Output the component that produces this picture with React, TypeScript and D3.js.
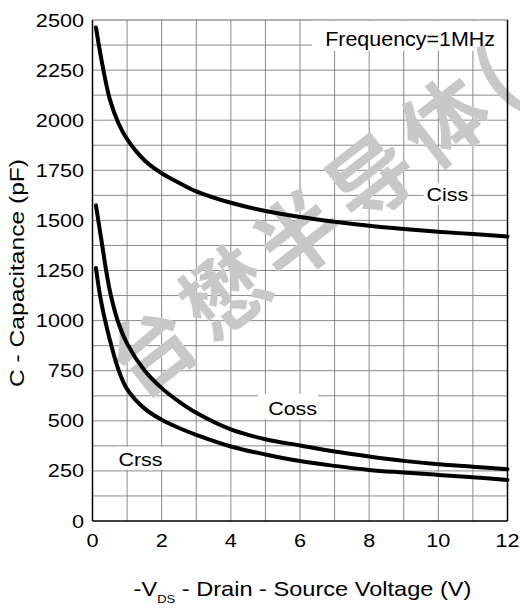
import { useEffect, useRef } from "react";
import * as d3 from "d3";

// Capacitance vs -VDS
const VDS = [0.1, 0.25, 0.5, 0.75, 1, 1.5, 2, 2.5, 3, 4, 5, 6, 7, 8, 9, 10, 11, 12];
const CISS = [2463, 2310, 2105, 1985, 1905, 1800, 1735, 1688, 1645, 1588, 1547, 1517, 1493, 1473, 1457, 1443, 1432, 1420];
const COSS = [1575, 1410, 1150, 988, 885, 752, 663, 596, 540, 457, 408, 377, 347, 322, 300, 283, 271, 258];
const CRSS = [1263, 1095, 905, 755, 658, 562, 505, 464, 430, 372, 332, 299, 275, 255, 242, 230, 218, 205];

const X_TICKS = [0, 2, 4, 6, 8, 10, 12];
const Y_TICKS = [0, 250, 500, 750, 1000, 1250, 1500, 1750, 2000, 2250, 2500];

const SERIES = [
  { name: "Ciss", values: CISS },
  { name: "Coss", values: COSS },
  { name: "Crss", values: CRSS },
];

// curve labels: data-space anchor (left / baseline) and white box padding
const LABELS = [
  { t: "Ciss", xv: 9.66, yv: 1597, box: [-3, -18, 47, 22] },
  { t: "Coss", xv: 5.08, yv: 529, box: [-10, -21, 60, 25] },
  { t: "Crss", xv: 0.75, yv: 276, box: [-2, -19, 49, 23] },
];

const W = 520;
const H = 610;
const FONT = "'Liberation Sans', Arial, sans-serif";
const GRID = "#8a8a8a";
const SX = 1.14; // the original lettering is a wide Helvetica

export default function App() {
  const ref = useRef<SVGSVGElement>(null);

  useEffect(() => {
    const el = ref.current;
    if (!el) return;
    const svg = d3.select(el);
    svg.selectAll("*").remove();

    const m = { top: 20, right: 12.5, bottom: 89, left: 92.5 };
    const iw = W - m.left - m.right;
    const ih = H - m.top - m.bottom;

    const x = d3.scaleLinear().domain([0, 12]).range([0, iw]);
    const y = d3.scaleLinear().domain([0, 2500]).range([ih, 0]);

    svg.append("rect").attr("width", W).attr("height", H).attr("fill", "#fff");

    const g = svg.append("g").attr("transform", `translate(${m.left},${m.top})`);

    // grid: every 1 V and every 125 pF
    g.append("g")
      .selectAll("line")
      .data(d3.range(1, 12))
      .join("line")
      .attr("x1", (d) => x(d))
      .attr("x2", (d) => x(d))
      .attr("y1", 0)
      .attr("y2", ih)
      .attr("stroke", GRID)
      .attr("stroke-width", 1);
    g.append("g")
      .selectAll("line")
      .data(d3.range(125, 2500, 125))
      .join("line")
      .attr("x1", 0)
      .attr("x2", iw)
      .attr("y1", (d) => y(d))
      .attr("y2", (d) => y(d))
      .attr("stroke", GRID)
      .attr("stroke-width", 1);
    g.append("line")
      .attr("x1", 0)
      .attr("x2", iw)
      .attr("y1", 0)
      .attr("y2", 0)
      .attr("stroke", "#666")
      .attr("stroke-width", 1.2);

    // white boxes behind the labels
    g.append("rect")
      .attr("x", 312 - m.left)
      .attr("y", 0.8)
      .attr("width", iw - (312 - m.left) - 0.8)
      .attr("height", 30)
      .attr("fill", "#fff");
    LABELS.forEach((l) => {
      g.append("rect")
        .attr("x", x(l.xv) + l.box[0])
        .attr("y", y(l.yv) + l.box[1])
        .attr("width", l.box[2])
        .attr("height", l.box[3])
        .attr("fill", "#fff");
    });

    // watermark
    g.append("text")
      .attr("transform", `translate(${150 - m.left},${345 - m.top}) rotate(-38)`)
      .attr("x", -44)
      .attr("dominant-baseline", "central")
      .attr("font-family", "'Noto Sans CJK SC', sans-serif")
      .attr("font-size", 84)
      .attr("font-weight", 700)
      .attr("letter-spacing", 9)
      .attr("fill", "#c8c8c8")
      .text("台懋半导体(");

    // axes frame
    const frame = [
      [0, 0, 0, ih],
      [iw, 0, iw, ih],
      [0, ih, iw, ih],
    ];
    g.append("g")
      .selectAll("line")
      .data(frame)
      .join("line")
      .attr("x1", (d) => d[0])
      .attr("y1", (d) => d[1])
      .attr("x2", (d) => d[2])
      .attr("y2", (d) => d[3])
      .attr("stroke", "#000")
      .attr("stroke-width", 1.5);

    // curves
    const line = d3
      .line<number>()
      .x((_, i) => x(VDS[i]))
      .y((d) => y(d))
      .curve(d3.curveCatmullRom.alpha(0.5));
    g.append("g")
      .selectAll("path")
      .data(SERIES)
      .join("path")
      .attr("d", (s) => line(s.values))
      .attr("fill", "none")
      .attr("stroke", "#000")
      .attr("stroke-width", 4)
      .attr("stroke-linecap", "round");

    const txt = (sel: any, tx: number, ty: number, size: number, sx = SX, extra = "") =>
      sel
        .append("text")
        .attr("transform", `translate(${tx},${ty}) ${extra} scale(${sx},1)`)
        .attr("font-family", FONT)
        .attr("font-size", size)
        .attr("fill", "#000");

    // curve labels
    LABELS.forEach((l) => {
      txt(g, x(l.xv), y(l.yv), 19, 1.13).text(l.t);
    });
    txt(g, 495 - m.left, 25.7, 19.5, 1.1).attr("text-anchor", "end").text("Frequency=1MHz");

    // tick labels
    Y_TICKS.forEach((d) => {
      txt(g, -8.5, y(d), 19, SX)
        .attr("text-anchor", "end")
        .attr("dominant-baseline", "central")
        .text(String(d));
    });
    X_TICKS.forEach((d) => {
      txt(g, x(d), ih + 26, 19, SX).attr("text-anchor", "middle").text(String(d));
    });

    // axis titles
    txt(svg, 24, 273, 21, 1.17, "rotate(-90)")
      .attr("text-anchor", "middle")
      .text("C - Capacitance (pF)");

    const xt = txt(svg, 302.5, 596, 20, 1.18).attr("text-anchor", "middle");
    xt.append("tspan").text("-V");
    xt.append("tspan").attr("font-size", 11).attr("dy", 7).text("DS");
    xt.append("tspan").attr("dy", -7).text(" - Drain - Source Voltage (V)");
  }, []);

  return (
    <svg
      ref={ref}
      width={W}
      height={H}
      style={{ position: "absolute", left: 0, top: 0, display: "block" }}
    />
  );
}
